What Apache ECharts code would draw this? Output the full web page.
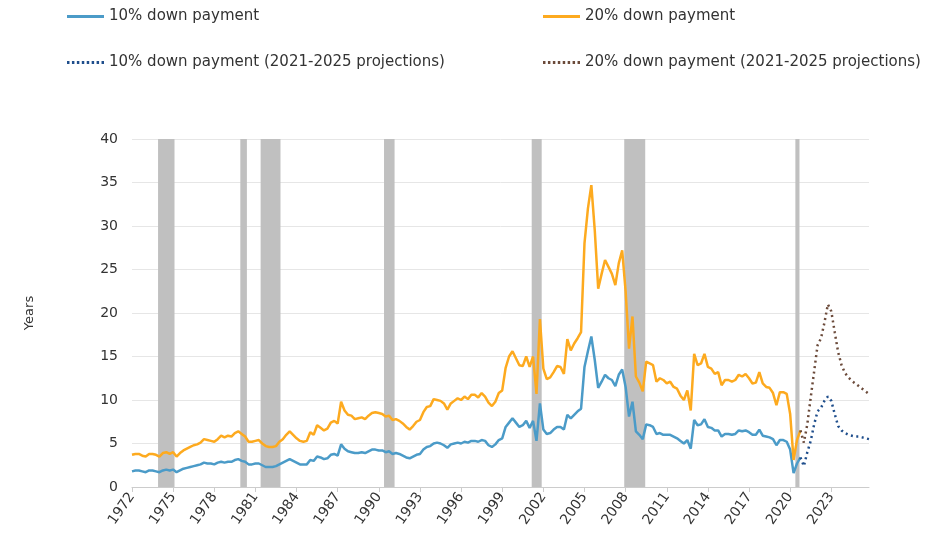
<!DOCTYPE html>
<html>
<head>
<meta charset="utf-8">
<script src="https://cdn.jsdelivr.net/npm/echarts@6/dist/echarts.min.js"></script>
<style>
  html, body { margin: 0; padding: 0; background: #fff; }
  #chart { width: 945px; height: 536px; }
</style>
</head>
<body>
<div id="chart"></div>
<script>
// quarterly axis, 1972Q1 .. 2025Q4
const startYear = 1972
const endYear = 2025

// 10% down payment, 1972Q1 .. 2020Q4 (one row per year)
const tenPct = [
  1.8, 1.9, 1.9, 1.8,  1.7, 1.9, 1.9, 1.8,  1.7, 1.9, 2.0, 1.9,
  2.0, 1.7, 1.9, 2.1,  2.2, 2.3, 2.4, 2.5,  2.6, 2.8, 2.7, 2.7,
  2.6, 2.8, 2.9, 2.8,  2.9, 2.9, 3.1, 3.2,  3.0, 2.9, 2.6, 2.6,
  2.7, 2.7, 2.5, 2.3,  2.3, 2.3, 2.4, 2.6,  2.8, 3.0, 3.2, 3.0,
  2.8, 2.6, 2.6, 2.6,  3.1, 3.0, 3.5, 3.4,  3.2, 3.3, 3.7, 3.8,
  3.6, 4.9, 4.4, 4.1,  4.0, 3.9, 3.9, 4.0,  3.9, 4.1, 4.3, 4.3,
  4.2, 4.2, 4.0, 4.1,  3.8, 3.9, 3.8, 3.6,  3.4, 3.3, 3.5, 3.7,
  3.8, 4.3, 4.6, 4.7,  5.0, 5.1, 5.0, 4.8,  4.5, 4.9, 5.0, 5.1,
  5.0, 5.2, 5.1, 5.3,  5.3, 5.2, 5.4, 5.3,  4.8, 4.6, 4.9, 5.4,
  5.6, 6.9, 7.4, 7.9,  7.4, 6.9, 7.1, 7.6,  6.8, 7.6, 5.3, 9.6,
  6.6, 6.1, 6.2, 6.6,  6.9, 6.9, 6.6, 8.3,  7.9, 8.3, 8.7, 9.0,
  13.8, 15.6, 17.3, 14.6,  11.4, 12.1, 12.9, 12.5,  12.3, 11.6, 12.9, 13.5,
  11.5, 8.1, 9.8, 6.4,  6.0, 5.5, 7.2, 7.1,  6.9, 6.1, 6.2, 6.0,
  6.0, 6.0, 5.8, 5.6,  5.3, 5.0, 5.4, 4.4,  7.7, 7.1, 7.2, 7.8,
  6.9, 6.8, 6.5, 6.5,  5.8, 6.1, 6.1, 6.0,  6.1, 6.5, 6.4, 6.5,
  6.3, 6.0, 6.0, 6.6,  5.9, 5.8, 5.7, 5.5,  4.8, 5.4, 5.4, 5.2,
  4.3, 1.6, 2.7, 3.4
]

// 20% down payment, 1972Q1 .. 2020Q4
const twentyPct = [
  3.7, 3.8, 3.8, 3.6,  3.5, 3.8, 3.8, 3.7,  3.5, 3.9, 4.0, 3.8,
  4.0, 3.5, 3.9, 4.2,  4.4, 4.6, 4.8, 4.9,  5.1, 5.5, 5.4, 5.3,
  5.2, 5.5, 5.9, 5.7,  5.9, 5.8, 6.2, 6.4,  6.1, 5.8, 5.2, 5.2,
  5.3, 5.4, 5.0, 4.7,  4.6, 4.6, 4.7, 5.2,  5.5, 6.0, 6.4, 6.0,
  5.6, 5.3, 5.2, 5.3,  6.3, 6.0, 7.1, 6.8,  6.5, 6.7, 7.4, 7.6,
  7.3, 9.8, 8.8, 8.3,  8.2, 7.8, 7.9, 8.0,  7.8, 8.2, 8.5, 8.6,
  8.5, 8.4, 8.1, 8.2,  7.7, 7.8, 7.6, 7.3,  6.9, 6.6, 7.0, 7.5,
  7.7, 8.6, 9.2, 9.3,  10.1, 10.0, 9.9, 9.6,  8.9, 9.6, 9.9, 10.2,
  10.0, 10.4, 10.1, 10.6,  10.6, 10.3, 10.8, 10.4,  9.7, 9.3, 9.8, 10.8,
  11.1, 13.7, 15.0, 15.6,  14.8, 14.0, 13.9, 15.0,  13.8, 15.0, 10.7, 19.3,
  13.6, 12.4, 12.6, 13.2,  13.9, 13.8, 13.0, 17.0,  15.7, 16.5, 17.1, 17.8,
  28.0, 32.0, 34.7, 29.5,  22.8, 24.5, 26.1, 25.3,  24.5, 23.2, 25.7, 27.2,
  22.5, 15.9, 19.6, 12.7,  12.0, 11.0, 14.4, 14.2,  14.0, 12.1, 12.5, 12.3,
  11.9, 12.1, 11.5, 11.3,  10.5, 10.0, 11.1, 8.8,  15.3, 14.0, 14.2, 15.3,
  13.8, 13.6, 13.0, 13.2,  11.7, 12.3, 12.3, 12.1,  12.3, 12.9, 12.7, 13.0,
  12.5, 11.9, 12.0, 13.2,  11.9, 11.5, 11.4, 10.8,  9.4, 10.9, 10.9, 10.7,
  8.4, 3.1, 5.4, 6.5
]

// projections, 2020Q4 .. 2025Q4
const tenProj = [3.4, 2.4, 4.0, 5.3, 7.2, 8.7, 9.1, 9.9, 10.4, 9.9, 8.4, 7.0, 6.5, 6.2, 6.0, 5.9, 5.8, 5.8, 5.7, 5.6, 5.5]
const twentyProj = [6.5, 5.1, 7.2, 10.3, 13.3, 16.3, 17.1, 18.9, 21.0, 20.2, 17.8, 15.5, 14.0, 13.1, 12.6, 12.2, 11.9, 11.6, 11.3, 11.0, 10.7]

// shaded recession periods, in fractional years
const recessions = [
  [1973.9, 1975.1], [1979.9, 1980.38], [1981.38, 1982.83], [1990.38, 1991.15],
  [2001.15, 2001.88], [2007.9, 2009.43], [2020.38, 2020.68]
]

const names = [
  '10% down payment',
  '20% down payment',
  '10% down payment (2021-2025 projections)',
  '20% down payment (2021-2025 projections)'
]

const quarters = []
for (let y = startYear; y <= endYear; y++) {
  for (let q = 1; q <= 4; q++) quarters.push(y + 'Q' + q)
}
const pad = (n) => new Array(n).fill('-')
const projStart = tenPct.length - 1

// legend glyphs: a solid bar and a row of dots
const solidIcon = 'path://M0,0H37V3H0Z'
let dots = ''
for (let x = 0; x < 37; x += 5) dots += 'M' + x + ',0h2.5v3h-2.5Z'
const dottedIcon = 'path://' + dots

const font = 'DejaVu Sans, sans-serif'
const legendBase = {
  itemWidth: 37,
  itemHeight: 3,
  itemGap: 6,
  textStyle: { fontFamily: font, fontSize: 15, color: '#333' },
  selectedMode: false
}

const chart = echarts.init(document.getElementById('chart'))
const option = {
  animation: false,
  legend: [
    { ...legendBase, data: [{ name: names[0], icon: solidIcon }], left: 62, top: 4 },
    { ...legendBase, data: [{ name: names[1], icon: solidIcon }], left: 538, top: 4 },
    { ...legendBase, data: [{ name: names[2], icon: dottedIcon }], left: 62, top: 50 },
    { ...legendBase, data: [{ name: names[3], icon: dottedIcon }], left: 538, top: 50 }
  ],
  grid: { left: 132, right: 76, top: 139, bottom: 49 },
  xAxis: [
    {
      type: 'category',
      data: quarters,
      boundaryGap: false,
      axisLine: { lineStyle: { color: '#cccccc' } },
      axisTick: { interval: 11, length: 5, lineStyle: { color: '#cccccc' } },
      axisLabel: {
        interval: 11,
        rotate: 55,
        formatter: (v) => v.slice(0, 4),
        fontFamily: font,
        fontSize: 14,
        color: '#333',
        margin: 7
      },
      splitLine: { show: false }
    },
    {
      type: 'value',
      min: startYear,
      max: endYear + 0.75,
      show: false
    }
  ],
  yAxis: {
    type: 'value',
    min: 0,
    max: 40,
    interval: 5,
    name: 'Years',
    nameLocation: 'middle',
    nameRotate: 90,
    nameGap: 96,
    nameTextStyle: { fontFamily: font, fontSize: 13, color: '#333' },
    axisLabel: { fontFamily: font, fontSize: 14, color: '#333', margin: 14 },
    axisLine: { show: false },
    axisTick: { show: false },
    splitLine: { lineStyle: { color: '#e6e6e6' } }
  },
  series: [
    {
      name: 'recessions',
      type: 'line',
      xAxisIndex: 1,
      data: [],
      silent: true,
      z: 1,
      markArea: {
        silent: true,
        itemStyle: { color: '#c0c0c0' },
        data: recessions.map(([a, b]) => [{ xAxis: a }, { xAxis: b }])
      }
    },
    {
      name: names[0],
      type: 'line',
      data: tenPct.concat(pad(quarters.length - tenPct.length)),
      symbol: 'none',
      z: 3,
      lineStyle: { color: '#4b9bc8', width: 2.5 },
      itemStyle: { color: '#4b9bc8' }
    },
    {
      name: names[1],
      type: 'line',
      data: twentyPct.concat(pad(quarters.length - twentyPct.length)),
      symbol: 'none',
      z: 3,
      lineStyle: { color: '#fdaa1f', width: 2.5 },
      itemStyle: { color: '#fdaa1f' }
    },
    {
      name: names[2],
      type: 'line',
      data: pad(projStart).concat(tenProj),
      symbol: 'none',
      z: 4,
      lineStyle: { color: '#1f4e8c', width: 2.5, type: [2, 3.5] },
      itemStyle: { color: '#1f4e8c' }
    },
    {
      name: names[3],
      type: 'line',
      data: pad(projStart).concat(twentyProj),
      symbol: 'none',
      z: 4,
      lineStyle: { color: '#6b4a3a', width: 2.5, type: [2, 3.5] },
      itemStyle: { color: '#6b4a3a' }
    }
  ]
}
option && chart.setOption(option)
</script>
</body>
</html>
